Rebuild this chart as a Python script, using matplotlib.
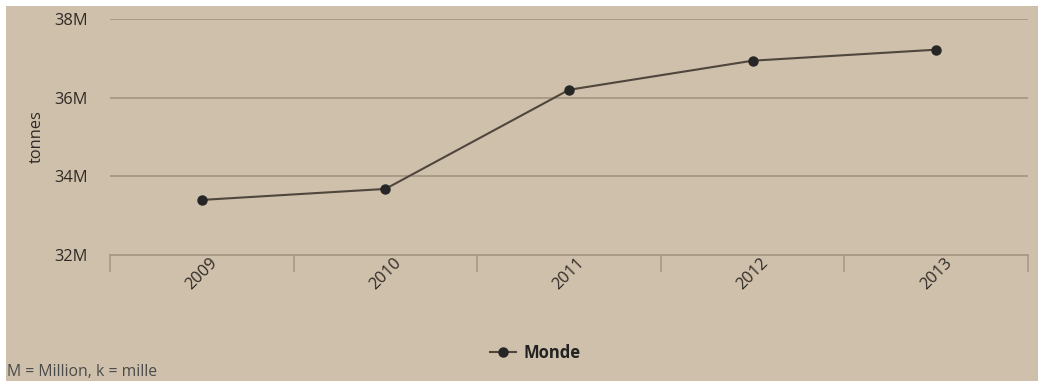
import matplotlib.pyplot as plt
from matplotlib import patches

# data
years = ['2009', '2010', '2011', '2012', '2013']
monde = [33.40, 33.68, 36.20, 36.94, 37.22]  # millions of tonnes
y_ticks = [32, 34, 36, 38]
y_labels = ['32M', '34M', '36M', '38M']

W, H = 1038, 381
bg = '#cfc0ab'
grid_col = '#a89a87'
text_col = '#2f2a25'

plt.rcParams['font.family'] = ['Open Sans', 'DejaVu Sans']

fig = plt.figure(figsize=(W / 100, H / 100), dpi=100, facecolor='white')
# beige panel with thin white border top/left
fig.patches.append(patches.Rectangle((6 / W, 0), 1 - 6 / W, 1 - 6 / H,
                                     transform=fig.transFigure, facecolor=bg,
                                     edgecolor='none', zorder=-5))

ax = fig.add_axes([110 / W, 1 - 255 / H, (1028 - 110) / W, (255 - 19) / H])
ax.set_facecolor('none')

x = list(range(len(years)))
ax.plot(x, monde, color='#4f463c', lw=1.5, marker='o', markersize=6.5,
        markerfacecolor='#262626', markeredgecolor='#262626', zorder=3,
        label='Monde')

ax.set_xlim(-0.5, len(years) - 0.5)
ax.set_ylim(32, 38)

ax.set_yticks(y_ticks)
ax.set_yticklabels(y_labels)
ax.tick_params(axis='y', length=0, pad=16, labelsize=11.8, labelcolor=text_col)
for v in y_ticks[1:]:
    ax.axhline(v, color=grid_col, lw=1.4, zorder=1)

ax.set_xticks(x)
ax.set_xticklabels(years, rotation=45, ha='center', va='top')
ax.tick_params(axis='x', which='major', length=0, pad=0, labelsize=11.8,
               labelcolor=text_col)
ax.set_xticks([i - 0.5 for i in range(len(years) + 1)], minor=True)
ax.tick_params(axis='x', which='minor', length=12, width=1.2, color=grid_col)

for s in ['top', 'right', 'left']:
    ax.spines[s].set_visible(False)
ax.spines['bottom'].set_color(grid_col)
ax.spines['bottom'].set_linewidth(1.4)

ax.set_ylabel('tonnes', fontsize=11.8, color=text_col)
ax.yaxis.set_label_coords((45 - 110) / 918, 0.5)

leg = fig.legend(loc='center', bbox_to_anchor=(535 / W, 1 - 353 / H),
                 frameon=False, handlelength=1.6, handletextpad=0.4,
                 prop={'size': 12, 'weight': 'bold'})
for t in leg.get_texts():
    t.set_color('#222222')

fig.text(7 / W, 1 - 372 / H, 'M = Million, k = mille', fontsize=11.3,
         color='#4a4a4a', va='center', ha='left')

fig.savefig('out.png', dpi=100, facecolor='white')
